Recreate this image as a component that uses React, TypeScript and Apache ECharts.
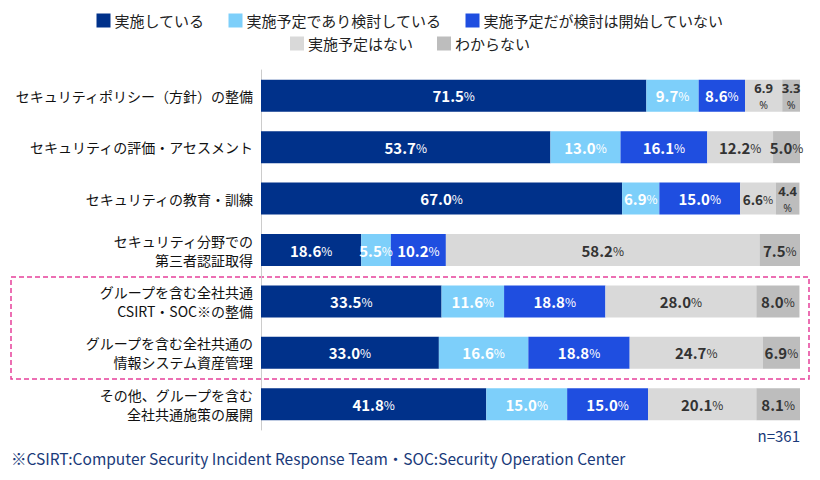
import React, { useEffect, useRef } from "react";
import * as echarts from "echarts";

const categories = [
  "セキュリティポリシー（方針）の整備",
  "セキュリティの評価・アセスメント",
  "セキュリティの教育・訓練",
  "セキュリティ分野での\n第三者認証取得",
  "グループを含む全社共通\nCSIRT・SOC※の整備",
  "グループを含む全社共通の\n情報システム資産管理",
  "その他、グループを含む\n全社共通施策の展開",
];

const seriesNames = [
  "実施している",
  "実施予定であり検討している",
  "実施予定だが検討は開始していない",
  "実施予定はない",
  "わからない",
];

const implemented = [71.5, 53.7, 67.0, 18.6, 33.5, 33.0, 41.8];
const planningConsidering = [9.7, 13.0, 6.9, 5.5, 11.6, 16.6, 15.0];
const planningNotStarted = [8.6, 16.1, 15.0, 10.2, 18.8, 18.8, 15.0];
const noPlan = [6.9, 12.2, 6.6, 58.2, 28.0, 24.7, 20.1];
const unknown = [3.3, 5.0, 4.4, 7.5, 8.0, 6.9, 8.1];

const seriesValues = [implemented, planningConsidering, planningNotStarted, noPlan, unknown];
const colors = ["#00318a", "#7dcffa", "#1f4ee0", "#d9d9d9", "#bdbdbd"];
const labelColors = ["#ffffff", "#ffffff", "#ffffff", "#333333", "#333333"];
// cells whose "%" wraps onto a second line [series, row]
const wrapCells = ["3-0", "4-0", "4-2"];
// cells drawn a little smaller to fit narrow segments
const tightCells = ["3-2"];

const FONT = "'Noto Sans CJK JP', 'Noto Sans', sans-serif";
const LATIN = "'Noto Sans', sans-serif";

export default function App() {
  const ref = useRef<HTMLDivElement>(null);
  useEffect(() => {
    if (!ref.current) return;
    const chart = echarts.init(ref.current, null, { renderer: "svg" });
    const series = seriesValues.map((vals, si) => ({
      name: seriesNames[si],
      type: "bar",
      stack: "total",
      barWidth: 32,
      data: vals,
      itemStyle: { color: colors[si] },
      label: {
        show: true,
        position: "inside",
        color: labelColors[si],
        formatter: (p: any) => {
          const v = Number(p.value).toFixed(1);
          const key = `${si}-${p.dataIndex}`;
          if (wrapCells.includes(key)) return `{s|${v}}\n{w|%}`;
          if (tightCells.includes(key)) return `{t|${v}}{q|%}`;
          return `{n|${v}}{p|%}`;
        },
        rich: {
          n: { fontSize: 15, fontWeight: "bold", color: labelColors[si], fontFamily: FONT, lineHeight: 18 },
          p: { fontSize: 12, color: labelColors[si], fontFamily: FONT, lineHeight: 18 },
          s: { fontSize: 13, fontWeight: "bold", color: labelColors[si], fontFamily: LATIN, lineHeight: 18 },
          w: { fontSize: 10.5, color: labelColors[si], fontFamily: LATIN, lineHeight: 15 },
          t: { fontSize: 13.5, fontWeight: "bold", color: labelColors[si], fontFamily: FONT, lineHeight: 18 },
          q: { fontSize: 11, color: labelColors[si], fontFamily: FONT, lineHeight: 18 },
        },
      },
    }));
    const legendBase = {
      left: "center",
      itemWidth: 14,
      itemHeight: 14,
      itemGap: 24,
      icon: "rect",
      textStyle: { fontSize: 15, color: "#222", fontFamily: FONT, padding: [0, 0, 0, -1] },
      selectedMode: false,
    };
    chart.setOption({
      animation: false,
      textStyle: { fontFamily: FONT },
      legend: [
        { ...legendBase, data: seriesNames.slice(0, 3), top: 8 },
        { ...legendBase, data: seriesNames.slice(3), top: 31 },
      ],
      grid: { left: 261, right: 20, top: 70, bottom: 50, containLabel: false },
      xAxis: {
        type: "value",
        min: 0,
        max: 100,
        show: false,
      },
      yAxis: {
        type: "category",
        data: categories,
        inverse: true,
        axisLine: { show: true, lineStyle: { color: "#cccccc", width: 1 } },
        axisTick: { show: false },
        axisLabel: {
          fontSize: 14,
          color: "#111",
          lineHeight: 19,
          margin: 8,
          fontFamily: FONT,
        },
      },
      series,
      graphic: [
        {
          type: "rect",
          shape: { x: 11, y: 277, width: 798, height: 102 },
          style: { fill: "none", stroke: "#e6409a", lineWidth: 1.5, lineDash: [5, 3] },
          silent: true,
        },
        {
          type: "text",
          right: 20,
          top: 428,
          style: { text: "n=361", fontSize: 15, fill: "#1a3a7a", fontFamily: FONT },
        },
        {
          type: "text",
          left: 11,
          top: 450,
          style: {
            text: "※CSIRT:Computer Security Incident Response Team・SOC:Security Operation Center",
            fontSize: 15.5,
            fill: "#1a3a7a",
            fontFamily: FONT,
          },
        },
      ],
    });
    return () => chart.dispose();
  }, []);
  return <div ref={ref} style={{ width: 820, height: 480, margin: -8 }} />;
}
